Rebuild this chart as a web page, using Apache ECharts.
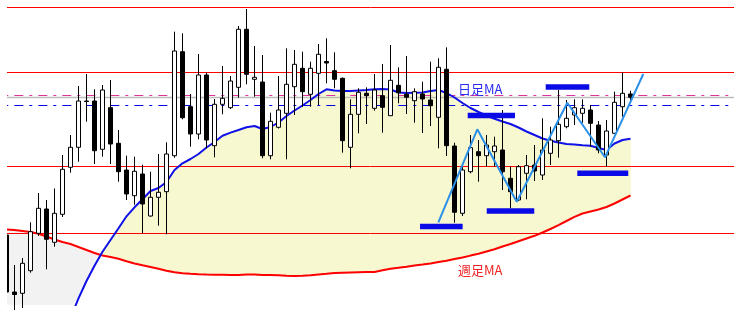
<!DOCTYPE html>
<html><head><meta charset="utf-8">
<script src="https://cdn.jsdelivr.net/npm/echarts@6/dist/echarts.min.js"></script>
<style>html,body{margin:0;padding:0;background:#ffffff}#c{width:742px;height:316px}</style>
</head><body><div id="c"></div>
<script>
// candle values (arbitrary price units)
const openV  = [70,13,11.7,34.3,71.7,96,62.7,90.7,137.7,157.7,204,204,155.7,197.3,161.7,135,109.3,131,89,107.7,113.3,149.3,253.3,198.3,171,230,159.3,200.7,197.3,217.7,275.7,225.7,223,149.3,177.7,191.7,218.3,236.7,210.7,231.7,243.5,234.3,226.7,157.7,190.7,211.7,196.7,209.3,189.3,219.7,210.7,204.3,211,205,187.7,235.7,159,91.7,133.3,153.3,149.3,153.3,155,126.7,105,131.7,140,130,151.7,164.3,178.3,190,191.7,195,180,150,171.7,198.3,211];
const closeV = [13,10.5,41.7,73.3,96.7,65.7,91.7,135.7,157.7,204,203.5,154.3,215,161,133.3,111,133.7,101,107.7,112.7,151,254,187.3,171,230,165,200.7,206.7,224,275.7,230.7,227.7,149.3,183.7,195,220.7,240.7,213.3,236.7,250.7,242,225.7,164.3,190.7,212.7,209.3,215,197.7,224.7,212.3,207.7,213.3,206,199.3,237.7,159.3,92.7,135,157.3,149.3,160,159,133.3,113.3,138.3,139.3,134,155,165,180.7,186.7,197.3,196.7,181.7,155,174,202.7,211.7,207.7];
const lowV   = [12,-5,-3,32.3,69,35.7,58.3,88,132.3,143.3,183.3,141,148.3,141,123.3,105,100.3,71.7,88.3,79.3,70.7,147.3,185.7,158.3,165.7,156.7,147.7,190.7,196,207.3,220.7,208.3,146.7,145.7,176.5,145.7,190,198.3,198.3,200,221.7,216.7,152.3,136.7,171.7,181,194.3,172.3,189,201.7,191,182.3,172,179,156.7,149,82.3,89,131.7,123.3,138.3,138.3,115,96.7,104,105.7,124,125,140,147.3,176.7,180,182.3,158.3,151.7,138.3,171,188.3,205];
const highV  = [70.5,40,47,82.7,112,105,116.5,150,170,219,231,215.7,220,225,175,149.3,148.3,140.3,133.3,151,162.7,273.3,271.7,211,251,232.3,206,239,229,279,296,259,250,192.3,229,256.7,255,253.3,243.3,261,266.7,252.7,227.5,205.7,216.7,217.7,231,241,260,237.7,249,216.7,223.3,243.3,246.7,257.7,162.3,138.3,170,165,170,168.3,195,138.3,140,150,160,186.7,178.3,215,205,205.7,205.7,200,184,185,213.3,232.7,214.3];
// moving averages
const dailyMA  = [null,null,null,null,null,null,null,null,-13,6.7,24,39.3,53.3,65,76.7,88.7,97.7,105.7,114,117,123,135,141.7,146,151,157.5,163,169.2,172.4,175,177.7,179,176,178,182.5,189,194.5,199.5,205,211,215.7,214.5,214,214,214.5,215,215.7,216,215.5,212.5,212,212.3,212.5,214,215,212,207.5,202,197,193,189.5,186.3,183.5,181,177.5,173.5,170,166.5,164.3,162.5,161,160.5,159.8,159.3,157,155,161.5,165,166.3];
const weeklyMA = [75.5,75,74,73,71.3,68.5,65.5,63,61,58,55,52,49.5,47.9,46.2,43.8,41.5,39.7,38,36.2,34.3,32.7,31.8,31.2,30.8,30.5,30.3,30.2,30,30,30.5,30.4,30,30,29.7,29.3,29,29.3,29.7,30.5,31.2,32,32.3,32.5,32.7,32.9,33,34.7,36.3,37.3,38.3,39.4,40.4,41.6,43,44.3,45.9,47.5,49.4,51.2,53.5,55.8,58.5,61,63.8,66.5,69.2,72.5,76,79.8,84,88.2,91.5,93.5,95.5,98,101.5,105.5,109.5];
// horizontal levels
const redLevels = [297.5, 232.5, 138.5, 71.5];
const grayLevel = 207.5;
const pinkLevel = 209.5;
const blueLevel = 199.5;
// zigzag
const zigX = [53.98, 58.85, 63.78, 70.1, 74.81, 79.6];
const zigV = [82.7, 175.7, 103.3, 202.3, 147.7, 231];
// support / resistance bars
const barX0 = [51.69, 57.65, 60.03, 67.4, 71.35];
const barX1 = [57.02, 63.56, 65.97, 72.85, 77.72];
const barV  = [78.5, 189.5, 94, 218, 131.7];
const labels = ['日足MA', '週足MA'];

const XMIN = 0.0625, XMAX = 90.9375, YMIN = 0, YMAX = 305;
const YELLOW = '#f7f7d0', GRAY = '#f2f2f2';

const candles = openV.map((o, i) => [i, o, closeV[i], lowV[i], highV[i]]);
const bv = i => (dailyMA[i] == null ? YMIN : Math.max(dailyMA[i], YMIN));

function fillItem(params, api) {
  const i = params.dataIndex;
  const b0 = bv(i), b1 = bv(i + 1), r0 = weeklyMA[i], r1 = weeklyMA[i + 1];
  const d0 = b0 - r0, d1 = b1 - r1;
  const polys = [];
  const mk = (pts, up) => {
    const c = up ? YELLOW : GRAY;
    polys.push({type: 'polygon', shape: {points: pts.map(p => api.coord(p))},
      style: {fill: c, stroke: c, lineWidth: 0.8}});
  };
  if (d0 * d1 >= 0) {
    mk([[i, b0], [i + 1, b1], [i + 1, r1], [i, r0]], (d0 + d1) >= 0);
  } else {
    const t = d0 / (d0 - d1);
    const xc = i + t, vc = b0 + t * (b1 - b0);
    mk([[i, b0], [xc, vc], [i, r0]], d0 > 0);
    mk([[xc, vc], [i + 1, b1], [i + 1, r1]], d1 > 0);
  }
  return {type: 'group', children: polys};
}

function hline(v, color, width, type, z) {
  return {type: 'line', data: [[XMIN, v], [XMAX, v]], symbol: 'none', silent: true, z: z,
    lineStyle: {color: color, width: width, type: type || 'solid', dashOffset: 16.7}};
}

const series = [];
series.push({type: 'custom', renderItem: fillItem, clip: true, silent: true, z: 1,
  data: weeklyMA.slice(0, weeklyMA.length - 1).map((v, i) => [i, v])});
redLevels.forEach(v => series.push(hline(v, '#ff0000', 1, 'solid', 2)));
series.push(hline(grayLevel, '#bdbdbd', 1.3, 'solid', 2));
series.push(hline(pinkLevel, '#e0309a', 1, [9, 6, 3, 6], 2));
series.push(hline(blueLevel, '#0000e6', 1, [9, 6, 3, 6], 2));
series.push({type: 'line', data: weeklyMA.map((v, i) => [i, v]), symbol: 'none', silent: true, z: 3,
  lineStyle: {color: '#ff0000', width: 2}});
series.push({type: 'line', data: dailyMA.map((v, i) => [i, v]), symbol: 'none', silent: true, z: 3,
  lineStyle: {color: '#1010e8', width: 2}});
series.push({type: 'candlestick', data: candles, barWidth: 4, z: 4, silent: true,
  itemStyle: {color: '#ffffff', color0: '#000000', borderColor: '#000000', borderColor0: '#000000', borderWidth: 1}});
series.push({type: 'line', data: zigX.map((x, i) => [x, zigV[i]]), symbol: 'none', silent: true, z: 5,
  lineStyle: {color: '#2b90e8', width: 2}});
barV.forEach((v, i) => series.push({type: 'line', data: [[barX0[i], v], [barX1[i], v]], symbol: 'none', silent: true, z: 6,
  lineStyle: {color: '#0a0ae6', width: 5.5, cap: 'butt'}}));

const chart = echarts.init(document.getElementById('c'), null, {renderer: 'canvas'});
chart.setOption({
  animation: false,
  backgroundColor: '#ffffff',
  grid: {left: 7, right: 8, top: 0, bottom: 11, containLabel: false},
  xAxis: {type: 'value', min: XMIN, max: XMAX, show: false},
  yAxis: {type: 'value', min: YMIN, max: YMAX, show: false},
  series: series,
  graphic: [
    // plot-area edge mask: the first candle is cut at the left border of the chart
    {type: 'rect', left: 0, top: 0, z: 20, silent: true, shape: {x: 0, y: 0, width: 7, height: 316}, style: {fill: '#ffffff'}},
    {type: 'text', left: 458, top: 83, z: 10, style: {text: labels[0], fill: '#2a2af0', font: '13px "Noto Sans CJK JP"'}},
    {type: 'text', left: 458, top: 264, z: 10, style: {text: labels[1], fill: '#f02424', font: '13px "Noto Sans CJK JP"'}}
  ]
});
</script></body></html>
